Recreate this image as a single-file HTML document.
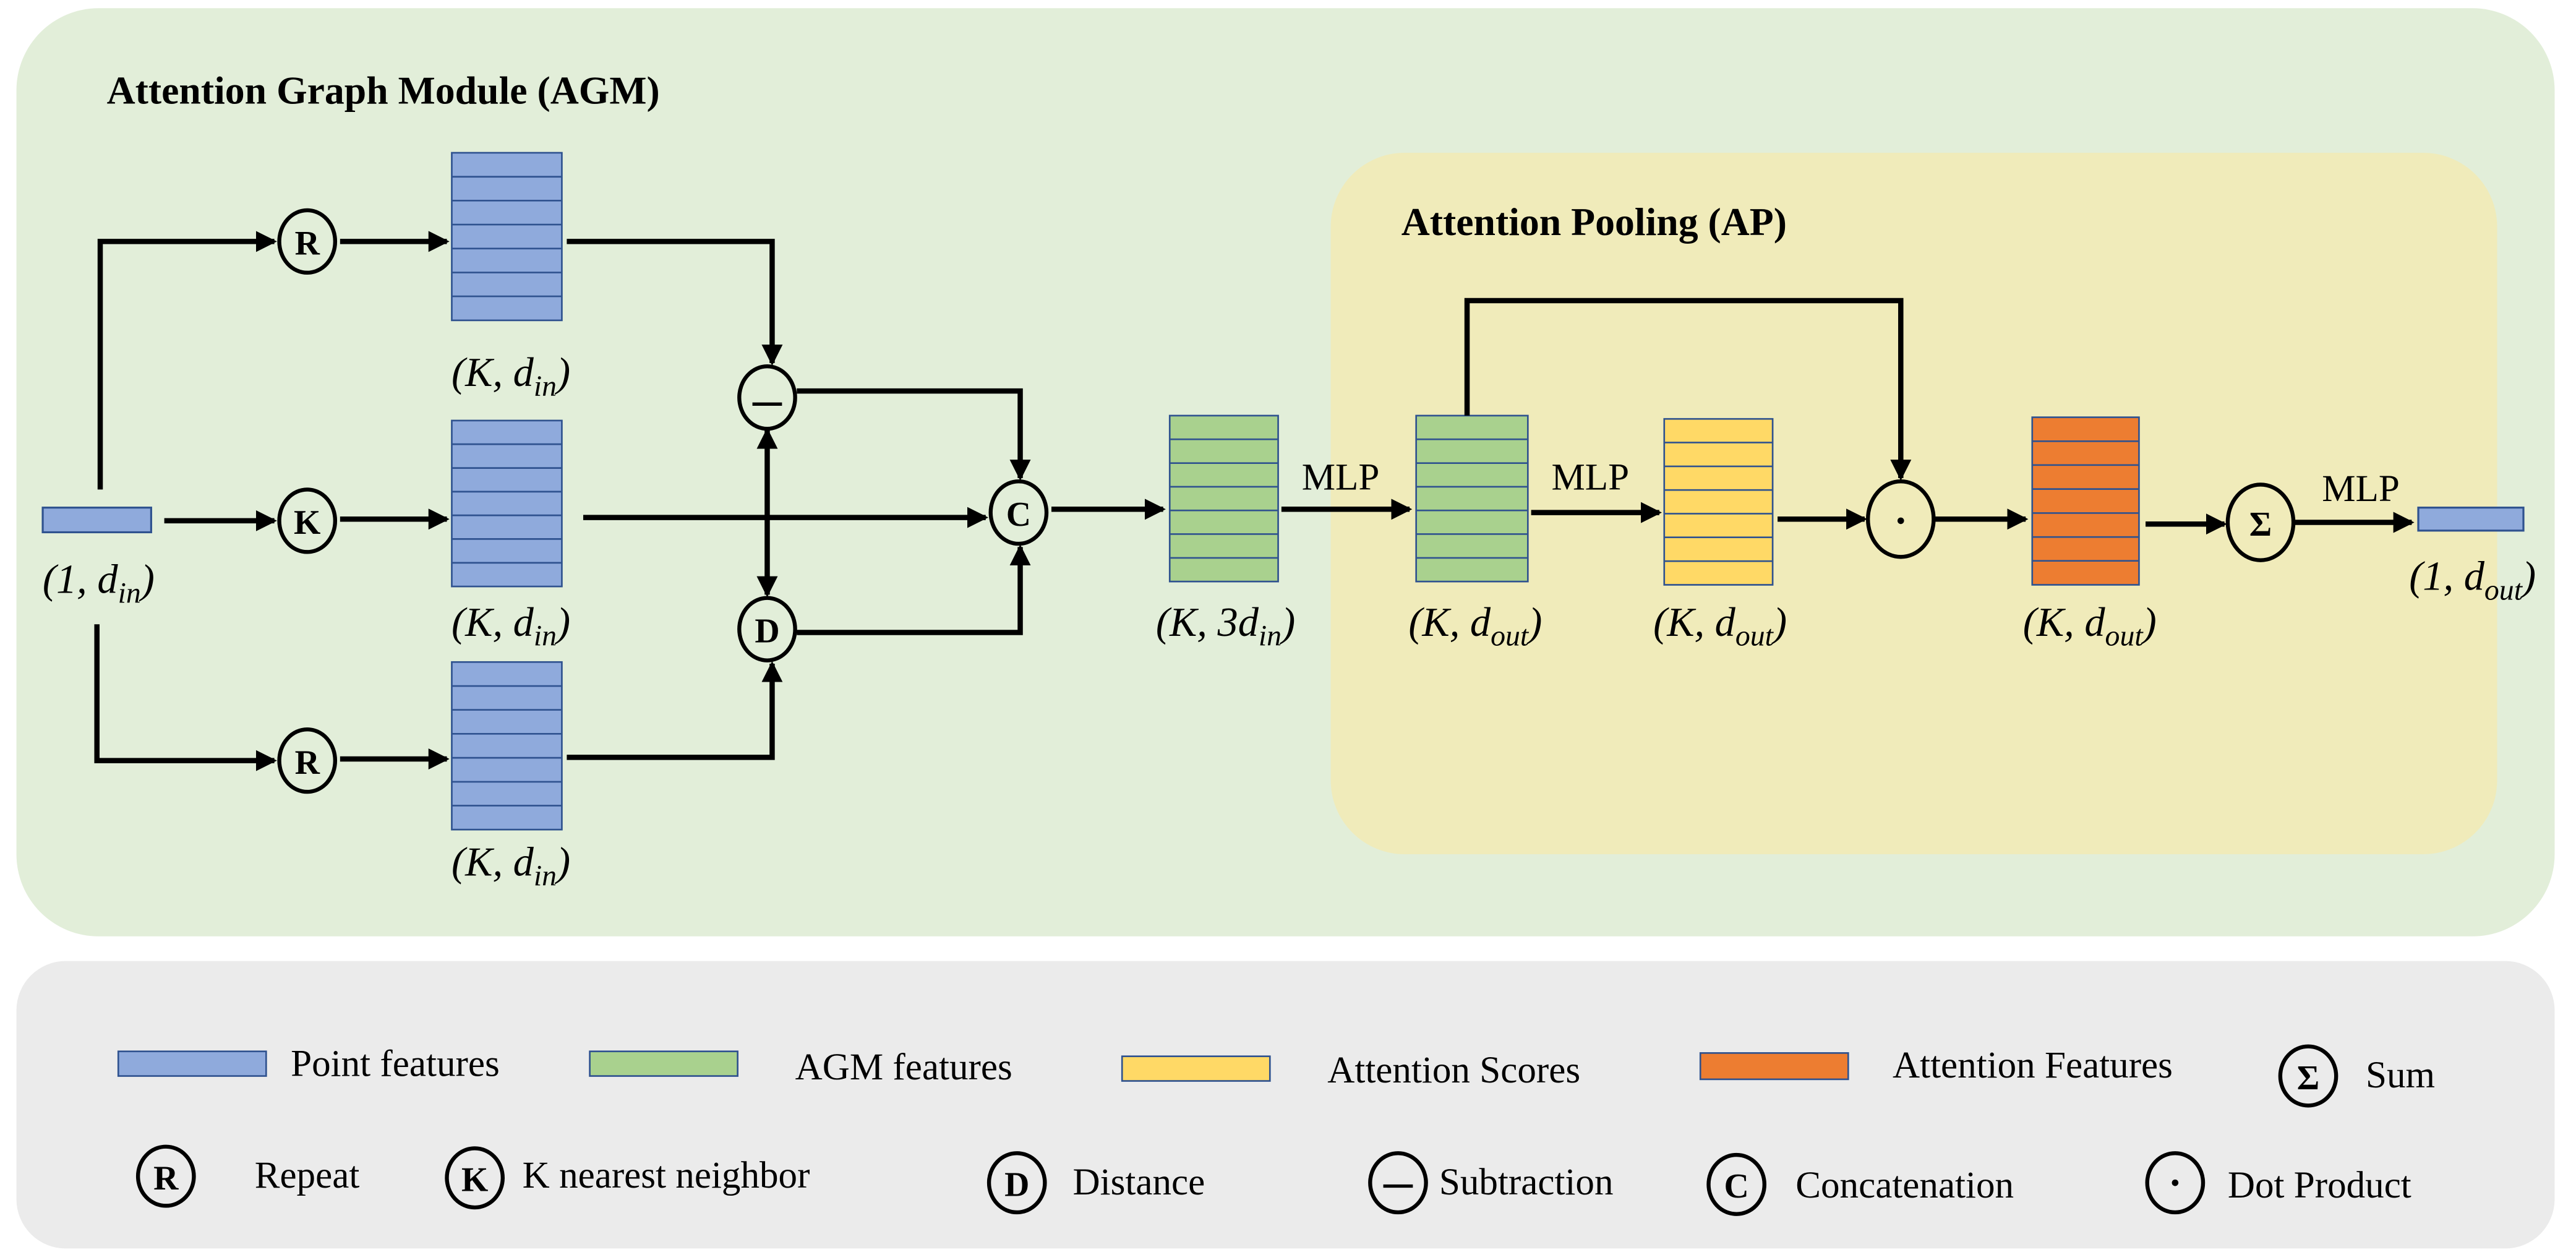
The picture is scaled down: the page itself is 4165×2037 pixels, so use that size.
<!DOCTYPE html>
<html><head><meta charset="utf-8"><style>
html,body{margin:0;padding:0;background:#fff;}
svg{display:block;}
text{font-family:"Liberation Serif","Times New Roman",serif;fill:#000;}
.t{font-weight:bold;font-size:24px;}
.lab{font-style:italic;font-size:25px;}
.lg{font-size:23px;}
.ci{fill:none;stroke:#000;stroke-width:2.4;}
.cl{font-weight:bold;font-size:21px;text-anchor:middle;}
.ln{fill:none;stroke:#000;stroke-width:3.2;}
</style></head><body>
<svg width="4165" height="2037" viewBox="0 0 1568 767" preserveAspectRatio="none" font-family="Liberation Serif, serif" xmlns="http://www.w3.org/2000/svg">
<defs>
<marker id="a" markerWidth="4" markerHeight="4" refX="3.5" refY="2" orient="auto" markerUnits="strokeWidth"><path d="M0,0 L4,2 L0,4 z" fill="#000"/></marker>
</defs>
<rect x="0" y="0" width="1568" height="767" fill="#fff"/>
<rect x="10" y="5" width="1545" height="565" rx="50" fill="#e2eed9"/>
<rect x="810" y="93" width="710" height="427" rx="45" fill="#f0ebba"/>
<rect x="10" y="585" width="1545" height="175" rx="30" fill="#ebebeb"/>
<text class="t" x="65" y="63">Attention Graph Module (AGM)</text>
<text class="t" x="853" y="143">Attention Pooling (AP)</text>

<g stroke="#2f528f" stroke-width="1.2">
<rect x="26" y="309" width="66" height="15" fill="#8faadc"/>
<rect x="1472" y="309" width="64" height="14" fill="#8faadc"/>
</g>

<g stroke="#2f528f" stroke-width="1">
<rect x="275" y="93" width="67" height="102" fill="#8faadc"/>
<path d="M275,107.6h67M275,122.1h67M275,136.7h67M275,151.3h67M275,165.9h67M275,180.4h67"/>
<rect x="275" y="256" width="67" height="101" fill="#8faadc"/>
<path d="M275,270.4h67M275,284.9h67M275,299.3h67M275,313.7h67M275,328.1h67M275,342.6h67"/>
<rect x="275" y="403" width="67" height="102" fill="#8faadc"/>
<path d="M275,417.6h67M275,432.1h67M275,446.7h67M275,461.3h67M275,475.9h67M275,490.4h67"/>
<rect x="712" y="253" width="66" height="101" fill="#a9d18e"/>
<path d="M712,267.4h66M712,281.9h66M712,296.3h66M712,310.7h66M712,325.1h66M712,339.6h66"/>
<rect x="862" y="253" width="68" height="101" fill="#a9d18e"/>
<path d="M862,267.4h68M862,281.9h68M862,296.3h68M862,310.7h68M862,325.1h68M862,339.6h68"/>
<rect x="1013" y="255" width="66" height="101" fill="#ffd966"/>
<path d="M1013,269.4h66M1013,283.9h66M1013,298.3h66M1013,312.7h66M1013,327.1h66M1013,341.6h66"/>
<rect x="1237" y="254" width="65" height="102" fill="#ed7d31"/>
<path d="M1237,268.6h65M1237,283.1h65M1237,297.7h65M1237,312.3h65M1237,326.9h65M1237,341.4h65"/>
</g>

<g>
<ellipse class="ci" cx="187" cy="147" rx="17" ry="19"/><text class="cl" x="187" y="155">R</text>
<ellipse class="ci" cx="187" cy="317" rx="17" ry="19"/><text class="cl" x="187" y="325">K</text>
<ellipse class="ci" cx="187" cy="463" rx="17" ry="19"/><text class="cl" x="187" y="471">R</text>
<ellipse class="ci" cx="467" cy="242" rx="17" ry="19"/><line x1="458" y1="246" x2="476" y2="246" stroke="#000" stroke-width="2"/>
<ellipse class="ci" cx="467" cy="383" rx="17" ry="19"/><text class="cl" x="467" y="391">D</text>
<ellipse class="ci" cx="620" cy="312" rx="17" ry="19"/><text class="cl" x="620" y="320">C</text>
<ellipse class="ci" cx="1157" cy="316" rx="20" ry="23"/><circle cx="1157" cy="317" r="2" fill="#000"/>
<ellipse class="ci" cx="1376" cy="318" rx="20" ry="23"/><text class="cl" x="1376" y="326">Σ</text>
</g>

<g class="ln" marker-end="url(#a)">
<path d="M61,298 V147 H167"/>
<path d="M100,317 H167"/>
<path d="M59,380 V463 H167"/>
<path d="M207,147 H272"/>
<path d="M207,316 H272"/>
<path d="M207,462 H272"/>
<path d="M345,147 H470 V221"/>
<path d="M485,238 H621 V291"/>
<path d="M355,315 H600"/>
<path d="M467,315 V262"/>
<path d="M467,315 V362"/>
<path d="M485,385 H621 V333"/>
<path d="M345,461 H470 V404"/>
<path d="M640,310 H708"/>
<path d="M780,310 H858"/>
<path d="M932,312 H1010"/>
<path d="M893,253 V183 H1157 V291"/>
<path d="M1082,316 H1135"/>
<path d="M1178,316 H1233"/>
<path d="M1306,319 H1354"/>
<path d="M1397,318 H1468"/>
</g>

<g class="lab" text-anchor="middle">
<text x="60" y="361">(1, d<tspan font-size="18" dy="6">in</tspan><tspan dy="-6">)</tspan></text>
<text x="311" y="235">(K, d<tspan font-size="18" dy="6">in</tspan><tspan dy="-6">)</tspan></text>
<text x="311" y="387">(K, d<tspan font-size="18" dy="6">in</tspan><tspan dy="-6">)</tspan></text>
<text x="311" y="533">(K, d<tspan font-size="18" dy="6">in</tspan><tspan dy="-6">)</tspan></text>
<text x="746" y="387">(K, 3d<tspan font-size="18" dy="6">in</tspan><tspan dy="-6">)</tspan></text>
<text x="898" y="387">(K, d<tspan font-size="18" dy="6">out</tspan><tspan dy="-6">)</tspan></text>
<text x="1047" y="387">(K, d<tspan font-size="18" dy="6">out</tspan><tspan dy="-6">)</tspan></text>
<text x="1272" y="387">(K, d<tspan font-size="18" dy="6">out</tspan><tspan dy="-6">)</tspan></text>
<text x="1505" y="359">(1, d<tspan font-size="18" dy="6">out</tspan><tspan dy="-6">)</tspan></text>
</g>
<g class="lg" text-anchor="middle" font-size="24">
<text x="816" y="298">MLP</text>
<text x="968" y="298">MLP</text>
<text x="1437" y="305">MLP</text>
</g>

<g stroke="#2f528f" stroke-width="1">
<rect x="72" y="640" width="90" height="15" fill="#8faadc"/>
<rect x="359" y="640" width="90" height="15" fill="#a9d18e"/>
<rect x="683" y="643" width="90" height="15" fill="#ffd966"/>
<rect x="1035" y="641" width="90" height="16" fill="#ed7d31"/>
</g>
<g class="lg">
<text x="177" y="655">Point features</text>
<text x="484" y="657">AGM features</text>
<text x="808" y="659">Attention Scores</text>
<text x="1152" y="656">Attention Features</text>
<text x="1440" y="662">Sum</text>
<text x="155" y="723">Repeat</text>
<text x="318" y="723">K nearest neighbor</text>
<text x="653" y="727">Distance</text>
<text x="876" y="727">Subtraction</text>
<text x="1093" y="729">Concatenation</text>
<text x="1356" y="729">Dot Product</text>
</g>
<ellipse class="ci" cx="1405" cy="655" rx="17" ry="18"/><text class="cl" x="1405" y="663">Σ</text>
<ellipse class="ci" cx="101" cy="716" rx="17" ry="18"/><text class="cl" x="101" y="724">R</text>
<ellipse class="ci" cx="289" cy="717" rx="17" ry="18"/><text class="cl" x="289" y="725">K</text>
<ellipse class="ci" cx="619" cy="720" rx="17" ry="18"/><text class="cl" x="619" y="728">D</text>
<ellipse class="ci" cx="851" cy="720" rx="17" ry="18"/><line x1="842" y1="722" x2="860" y2="722" stroke="#000" stroke-width="2"/>
<ellipse class="ci" cx="1057" cy="721" rx="17" ry="18"/><text class="cl" x="1057" y="729">C</text>
<ellipse class="ci" cx="1324" cy="720" rx="17" ry="18"/><circle cx="1324" cy="720" r="2" fill="#000"/>
</svg>
</body></html>
